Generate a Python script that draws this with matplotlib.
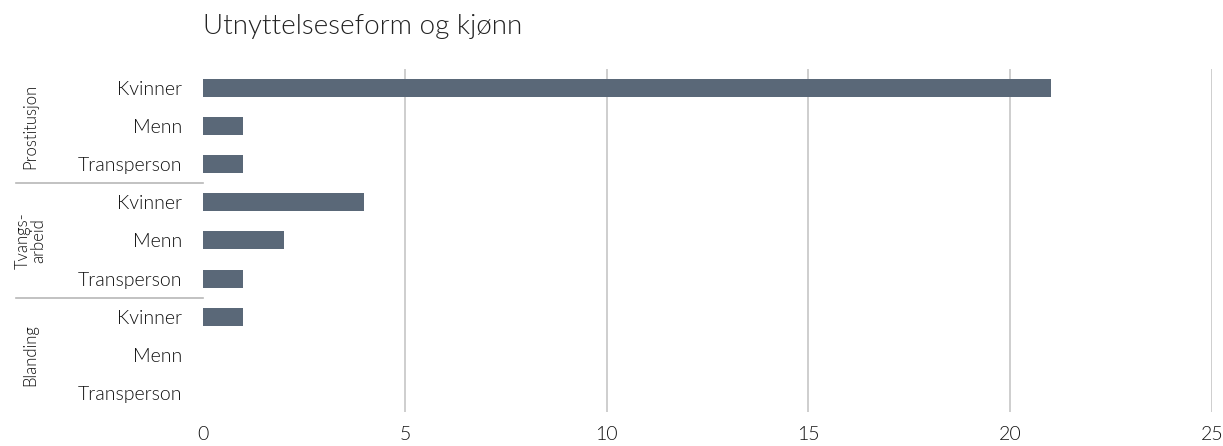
import matplotlib.pyplot as plt

plt.rcParams['font.family'] = ['Lato', 'DejaVu Sans']
plt.rcParams['font.weight'] = 300

groups = ['Prostitusjon', 'Tvangs-\narbeid', 'Blanding']
genders = ['Kvinner', 'Menn', 'Transperson']
values = [21, 1, 1, 4, 2, 1, 1, 0, 0]
title = 'Utnyttelseseform og kjønn'

labels = genders * len(groups)
n = len(values)
ypos = list(range(n))

fig = plt.figure(figsize=(12.23, 4.46), dpi=100)
ax = fig.add_axes([0.166, 0.076, 0.825, 0.77])

ax.barh(ypos, values, height=0.47, color='#5a6878', zorder=3)
ax.set_ylim(n - 0.5, -0.5)
ax.set_xlim(0, 25)
ax.set_xticks([0, 5, 10, 15, 20, 25])
ax.set_yticks(ypos)
ax.set_yticklabels(labels)
ax.tick_params(axis='both', length=0, labelsize=14, colors='#111111')
ax.tick_params(axis='y', pad=15)
ax.tick_params(axis='x', pad=10)
for s in ax.spines.values():
    s.set_visible(False)

for x in [5, 10, 15, 20, 25]:
    ax.axvline(x, color='#c6c6c6', lw=1.2, zorder=1)

# group labels and separators
trans = ax.get_yaxis_transform()
for i, g in enumerate(groups):
    mid = i * 3 + 1
    ax.text(-0.171, mid, g, transform=trans, rotation=90, ha='center', va='center',
            fontsize=12, color='#111111', linespacing=0.9)
    if i > 0:
        ax.plot([-0.185, 0], [i * 3 - 0.5, i * 3 - 0.5], transform=trans,
                color='#b8b8b8', lw=1.2, clip_on=False)

fig.text(0.166, 0.94, title, fontsize=20, color='#222222', va='center', ha='left')

fig.savefig('out.png', dpi=100)
